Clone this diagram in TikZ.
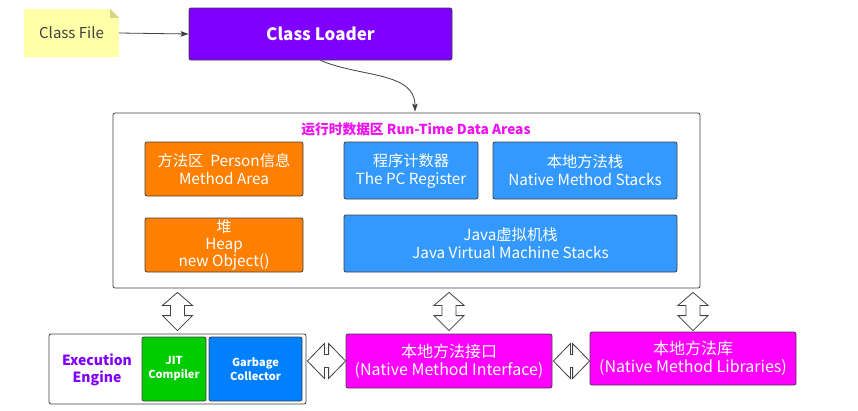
\documentclass[tikz,border=0pt]{standalone}
\usepackage{fontspec}
\setmainfont{Noto Sans CJK SC}
\usetikzlibrary{calc,backgrounds,arrows.meta}
\definecolor{notey}{HTML}{FFFFA8}
\definecolor{notefold}{HTML}{D6D68A}
\definecolor{loaderc}{HTML}{7F00FF}
\definecolor{orangec}{HTML}{FF8000}
\definecolor{bluec}{HTML}{3399FF}
\definecolor{gcblue}{HTML}{0080FF}
\definecolor{jitgreen}{HTML}{00CC00}
\definecolor{magc}{HTML}{FF00FF}
\definecolor{titlec}{HTML}{F010F0}
\definecolor{eepurple}{HTML}{8000FF}
\definecolor{edgec}{HTML}{404040}
\begin{document}
\begin{tikzpicture}[x=1pt,y=-1pt,
  box/.style={draw=edgec,line width=0.8pt,rounded corners=2pt,text=white,align=center,inner sep=0pt},
  mid/.style={font=\fontsize{15.3}{18}\selectfont},
  big/.style={font=\fontsize{16}{18}\selectfont},
  conn/.style={draw=edgec,line width=0.8pt,-{Stealth[length=8pt,width=5.5pt,inset=1.5pt]}},
  vblock/.style={draw=edgec,fill=white,line width=0.8pt,line join=miter,
    to path={let \p1=(\tikztostart), \p2=(\tikztotarget) in
      (\p1) -- (\x1+15pt,\y1-13pt) -- (\x1+7pt,\y1-13pt) -- (\x1+7pt,\y2+15pt)
      -- (\x1+15pt,\y2+15pt) -- (\x1,\y2) -- (\x1-15pt,\y2+15pt) -- (\x1-7pt,\y2+15pt)
      -- (\x1-7pt,\y1-13pt) -- (\x1-15pt,\y1-13pt) -- cycle}},
  hblock/.style={draw=edgec,fill=white,line width=0.8pt,line join=miter,
    to path={let \p1=(\tikztostart), \p2=(\tikztotarget) in
      (\p1) -- (\x1+17pt,\y1+17.5pt) -- (\x1+17pt,\y1+6.5pt) -- (\x2-17pt,\y1+6.5pt)
      -- (\x2-17pt,\y1+17.5pt) -- (\x2,\y1) -- (\x2-17pt,\y1-17.5pt) -- (\x2-17pt,\y1-6.5pt)
      -- (\x1+17pt,\y1-6.5pt) -- (\x1+17pt,\y1-17.5pt) -- cycle}}
]
\useasboundingbox (0,0) rectangle (858,410);

% top row
\node[inner sep=0pt,minimum width=95pt,minimum height=48pt,font=\fontsize{15}{18}\selectfont,text=black!75] (cf) at (71.5,33) {Class File};
\node[box,fill=loaderc,minimum width=263pt,minimum height=52pt,font=\bfseries\fontsize{17}{20}\selectfont] (cl) at (320.5,34) {Class Loader};

% run-time data areas
\node[box,text=black,fill=white,minimum width=587pt,minimum height=175pt] (rt) at (406.5,200.5) {};
\node[font=\bfseries\fontsize{13.7}{15}\selectfont,text=titlec] (title) at (416,129) {运行时数据区 Run-Time Data Areas};
\node[box,mid,fill=orangec,minimum width=158pt,minimum height=54pt] (ma) at (224,169) {方法区\ \ Person信息\\Method Area};
\node[box,fill=orangec,minimum width=158pt,minimum height=54pt,font=\fontsize{15.3}{17}\selectfont] (heap) at (224,245) {堆\\Heap\\new Object()};
\node[box,mid,fill=bluec,minimum width=134pt,minimum height=57pt] (pc) at (411,170.5) {程序计数器\\The PC Register};
\node[box,mid,fill=bluec,minimum width=184pt,minimum height=57pt] (nms) at (585,170.5) {本地方法栈\\Native Method Stacks};
\node[box,mid,fill=bluec,minimum width=333pt,minimum height=57pt] (jvm) at (510.5,243.5) {Java虚拟机栈\\Java Virtual Machine Stacks};

% bottom row
\node[box,fill=white,minimum width=257pt,minimum height=70pt] (ee) at (177.5,369) {};
\node[align=center,text=eepurple,font=\bfseries\fontsize{14}{17}\selectfont] (eet) at (97,369.5) {Execution\\Engine};
\node[box,fill=jitgreen,minimum width=64pt,minimum height=64pt,font=\bfseries\fontsize{11}{14}\selectfont] (jit) at (174,369) {JIT\\Compiler};
\node[box,fill=gcblue,minimum width=93pt,minimum height=64pt,font=\bfseries\fontsize{11}{14}\selectfont] (gc) at (255.5,369) {Garbage\\Collector};
\node[box,big,fill=magc,minimum width=206pt,minimum height=54pt] (nmi) at (449,361) {本地方法接口\\(Native Method Interface)};
\node[box,big,fill=magc,minimum width=206pt,minimum height=53pt] (nml) at (693,358.5) {本地方法库\\(Native Method Libraries)};

\begin{scope}[on background layer]
  \fill[white] (0,0) rectangle (858,410);
  \fill[notey] (cf.south west) -- (cf.north west) -- ([xshift=-9pt]cf.north east)
    -- ([yshift=-9pt]cf.north east) -- (cf.south east) -- cycle;
  \fill[notefold] ([xshift=-9pt]cf.north east) -- ([xshift=-9pt,yshift=-9pt]cf.north east)
    -- ([yshift=-9pt]cf.north east) -- cycle;
\end{scope}

% connectors
\draw[conn] (cf.east) -- (cl.west);
\draw[conn] (cl.south) .. controls +(40,17) and +(0,-40) .. ($(rt.north)+(8.5,-1)$);

\draw[vblock] ($(rt.south -| ee.north)+(0,4)$) to ($(ee.north)+(0,-3)$);
\draw[vblock] ($(rt.south -| nmi.north)+(0,4)$) to ($(nmi.north)+(0,-3)$);
\draw[vblock] ($(rt.south -| nml.north)+(0,4)$) to ($(nml.north)+(0,-1)$);
\draw[hblock] ($(ee.east |- nmi.west)+(1,0)$) to (nmi.west);
\draw[hblock] ($(nmi.east)+(1,0)$) to (nml.west |- nmi.east);
\end{tikzpicture}
\end{document}
